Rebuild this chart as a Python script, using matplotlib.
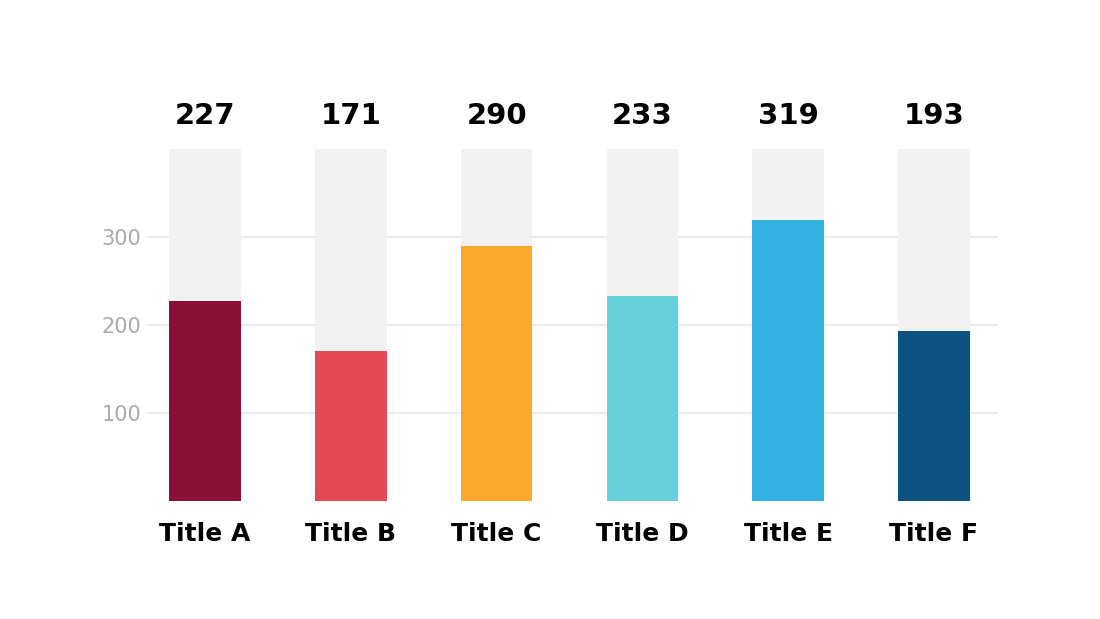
import matplotlib.pyplot as plt

titles = ["Title A", "Title B", "Title C", "Title D", "Title E", "Title F"]
values = [227, 171, 290, 233, 319, 193]
colors = ["#8B1038", "#E44A56", "#FBA92C", "#65D0DA", "#35B0E2", "#0B5280"]
max_value = 400
grid_ticks = [100, 200, 300]

fig = plt.figure(figsize=(11, 6.19), dpi=100)
ax = fig.add_axes([148 / 1100, 1 - 501 / 619, (998 - 148) / 1100, (501 - 149) / 619])

x = list(range(len(titles)))
# gray track behind each bar
ax.bar(x, [max_value] * len(x), width=0.49, color="#F2F2F2", zorder=2)
ax.bar(x, values, width=0.49, color=colors, zorder=3)

for xi, v in zip(x, values):
    ax.text(xi, 437, str(v), ha="center", va="center", fontsize=21,
            fontweight="bold", color="black")

ax.set_xlim(-0.391, 5.439)
ax.set_ylim(0, max_value)
ax.set_yticks(grid_ticks)
ax.set_yticklabels([str(t) for t in grid_ticks], fontsize=15, color="#AAAAAA")
ax.set_xticks(x)
ax.set_xticklabels(titles, fontsize=18, fontweight="bold", color="black")
ax.tick_params(axis="x", length=0, pad=15)
ax.tick_params(axis="y", length=0, pad=5)
ax.grid(axis="y", color="#E6E6E6", linewidth=1.2, zorder=0)
ax.set_axisbelow(True)
for s in ax.spines.values():
    s.set_visible(False)

fig.savefig("out.png", dpi=100)
